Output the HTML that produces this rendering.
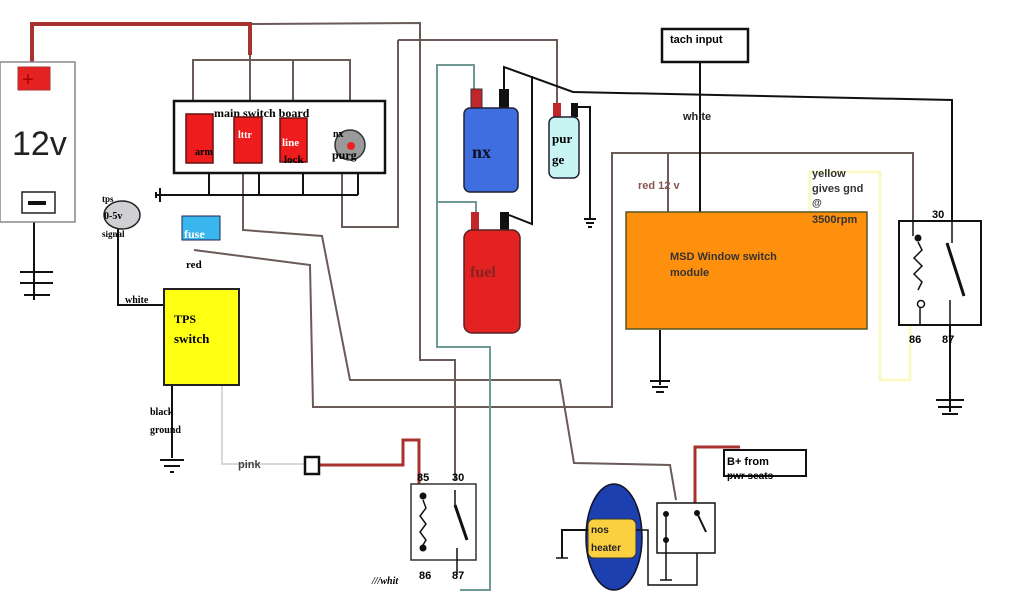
<!DOCTYPE html>
<html><head><meta charset="utf-8"><style>
html,body{margin:0;padding:0;background:#fff;}
svg{display:block;}
.s{font-family:"Liberation Serif",serif;font-weight:bold;}
.a{font-family:"Liberation Sans",sans-serif;font-weight:bold;}
</style></head><body>
<svg width="1024" height="600" viewBox="0 0 1024 600" xmlns="http://www.w3.org/2000/svg">
<g fill="none" stroke-linejoin="miter">
<!-- gray/brown wires -->
<g stroke="#6a5a58" stroke-width="2">
<polyline points="250,24 420,23 420,360 455,360 455,480"/>
<polyline points="398,40 557,40 557,103"/>
<polyline points="398,40 398,227 342,227 342,173"/>
<polyline points="193,100 193,60 350,60 350,100"/>
<line x1="293" y1="60" x2="293" y2="100"/>
<line x1="250" y1="55" x2="250" y2="100"/>
<polyline points="243,173 243,230 322,236 350,380 560,380 574,463 670,465 676,500"/>
<polyline points="194,250 310,265 313,407 612,407 612,153 913,153 913,221"/>
<line x1="668" y1="153" x2="668" y2="212"/>
</g>
<!-- teal wires -->
<g stroke="#6f9a94" stroke-width="2">
<polyline points="474,89 474,65 437,65 437,347 490,347 490,590 460,590"/>
<polyline points="437,202 476,202 476,212"/>
</g>
<!-- black wires -->
<g stroke="#111" stroke-width="2">
<polyline points="504,89 504,67 573,92 952,100 952,221"/>
<polyline points="532,76 532,224 509,215"/>
<polyline points="578,107 590,107 590,218"/>
<line x1="584" y1="219" x2="596" y2="219"/><line x1="586" y1="223" x2="594" y2="223"/><line x1="588" y1="227" x2="592" y2="227"/>
<line x1="700" y1="62" x2="700" y2="212"/>
<polyline points="155,195 358,195"/>
<line x1="160" y1="188" x2="160" y2="202"/><line x1="156" y1="192" x2="156" y2="198"/>
<line x1="209" y1="173" x2="209" y2="195"/><line x1="259" y1="173" x2="259" y2="195"/><line x1="303" y1="173" x2="303" y2="195"/><line x1="358" y1="173" x2="358" y2="195"/>
<line x1="34" y1="222" x2="34" y2="300"/>
<line x1="20" y1="272" x2="53" y2="272"/><line x1="20" y1="283" x2="53" y2="283"/><line x1="24" y1="295" x2="50" y2="295"/>
<polyline points="118,229 118,305 164,305"/>
<line x1="172" y1="385" x2="172" y2="458"/>
<line x1="160" y1="460" x2="184" y2="460"/><line x1="164" y1="466" x2="180" y2="466"/><line x1="170" y1="472" x2="174" y2="472"/>
<line x1="660" y1="330" x2="660" y2="385"/>
<line x1="650" y1="381" x2="670" y2="381"/><line x1="652" y1="387" x2="668" y2="387"/><line x1="656" y1="392" x2="664" y2="392"/>
<line x1="950" y1="325" x2="950" y2="412"/>
<line x1="936" y1="400" x2="964" y2="400"/><line x1="938" y1="407" x2="962" y2="407"/><line x1="942" y1="414" x2="958" y2="414"/>
</g>
<!-- red wires -->
<polyline points="32,62 32,24 250,24 250,55" stroke="#a8322f" stroke-width="4"/>
<polyline points="320,465 403,465 403,440 419,440 419,490" stroke="#a8322f" stroke-width="3"/>
<polyline points="695,505 695,447 740,447" stroke="#a8322f" stroke-width="3"/>
<!-- pink -->
<polyline points="222,385 222,464 305,464" stroke="#d8d8d8" stroke-width="2"/>
<!-- yellow wire -->
<polyline points="810,212 810,172 880,172 880,380 910,380 910,263" stroke="#fafac8" stroke-width="3"/>
</g>

<!-- battery -->
<rect x="0" y="62" width="75" height="160" fill="#fff" stroke="#888" stroke-width="1.5"/>
<rect x="18" y="67" width="32" height="23" fill="#e52222" stroke="#a33" stroke-width="1"/>
<text x="22" y="86" fill="#a00" font-size="20" font-family="Liberation Sans">+</text>
<text x="12" y="155" font-size="34" font-family="Liberation Sans" fill="#222">12v</text>
<rect x="22" y="192" width="33" height="21" fill="#fff" stroke="#222" stroke-width="1.5"/>
<rect x="28" y="201" width="18" height="4" fill="#111"/>

<!-- main switch board -->
<rect x="174" y="101" width="211" height="72" fill="#fff" stroke="#111" stroke-width="2.5"/>
<text x="214" y="117" class="s" font-size="12">main switch board</text>
<rect x="186" y="114" width="27" height="49" fill="#ee1c1c" stroke="#611" stroke-width="1.5"/>
<rect x="234" y="117" width="28" height="46" fill="#ee1c1c" stroke="#611" stroke-width="1.5"/>
<rect x="280" y="118" width="27" height="44" fill="#ee1c1c" stroke="#611" stroke-width="1.5"/>
<circle cx="350" cy="145" r="15" fill="#9a9a9a" stroke="#333" stroke-width="1.5"/>
<circle cx="351" cy="146" r="4" fill="#e22"/>
<text x="195" y="155" class="s" font-size="10">arm</text>
<text x="238" y="138" class="s" font-size="10" fill="#fff">lttr</text>
<text x="282" y="146" class="s" font-size="11" fill="#fff">line</text>
<text x="284" y="163" class="s" font-size="11">lock</text>
<text x="333" y="137" class="s" font-size="10">nx</text>
<text x="332" y="159" class="s" font-size="12">purg</text>

<!-- tps -->
<ellipse cx="122" cy="215" rx="18" ry="14" fill="#d0d0d4" stroke="#222" stroke-width="1.5"/>
<text x="102" y="202" class="s" font-size="9">tps</text>
<text x="104" y="219" class="s" font-size="10">0-5v</text>
<text x="102" y="237" class="s" font-size="9">signal</text>
<rect x="182" y="216" width="38" height="24" fill="#3ab6ef" stroke="#225" stroke-width="1"/>
<text x="184" y="238" class="s" font-size="12" fill="#fff">fuse</text>
<text x="186" y="268" class="s" font-size="11">red</text>
<text x="125" y="303" class="s" font-size="10">white</text>
<rect x="164" y="289" width="75" height="96" fill="#ffff14" stroke="#222" stroke-width="2"/>
<text x="174" y="323" class="s" font-size="12" font-weight="normal">TPS</text>
<text x="174" y="343" class="s" font-size="13" font-weight="normal">switch</text>
<text x="150" y="415" class="s" font-size="10">black</text>
<text x="150" y="433" class="s" font-size="10">ground</text>
<text x="238" y="468" class="a" font-size="11" fill="#444">pink</text>
<rect x="305" y="457" width="14" height="17" fill="#fff" stroke="#111" stroke-width="2.5"/>

<!-- relay 1 -->
<rect x="411" y="484" width="65" height="76" fill="#fff" stroke="#333" stroke-width="1.5"/>
<text x="417" y="481" class="a" font-size="11">85</text>
<text x="452" y="481" class="a" font-size="11">30</text>
<text x="419" y="579" class="a" font-size="11">86</text>
<text x="452" y="579" class="a" font-size="11">87</text>
<circle cx="423" cy="496" r="3.5" fill="#111"/><circle cx="423" cy="548" r="3.5" fill="#111"/>
<polyline points="423,500 426,508 420,516 426,524 420,532 426,540 423,545" fill="none" stroke="#111" stroke-width="1.5"/>
<line x1="455" y1="505" x2="467" y2="540" stroke="#111" stroke-width="3"/>
<line x1="455" y1="490" x2="455" y2="505" stroke="#111" stroke-width="1.5"/>
<line x1="457" y1="548" x2="457" y2="575" stroke="#111" stroke-width="1.5"/>
<text x="372" y="584" class="s" font-size="10" font-style="italic">///whit</text>

<!-- solenoids -->
<rect x="471" y="89" width="11" height="19" fill="#c0272d" stroke="#333"/>
<rect x="499" y="89" width="10" height="19" fill="#111"/>
<rect x="464" y="108" width="54" height="84" rx="6" fill="#3e6ee0" stroke="#223" stroke-width="1.5"/>
<text x="472" y="158" class="s" font-size="18" font-weight="normal" fill="#112">nx</text>
<rect x="553" y="103" width="8" height="14" fill="#c0272d"/>
<rect x="571" y="103" width="7" height="14" fill="#111"/>
<rect x="549" y="117" width="30" height="61" rx="6" fill="#c8f4f4" stroke="#223" stroke-width="1.5"/>
<text x="552" y="143" class="s" font-size="13">pur</text>
<text x="552" y="164" class="s" font-size="13">ge</text>
<rect x="471" y="212" width="8" height="18" fill="#c0272d"/>
<rect x="500" y="212" width="9" height="18" fill="#111"/>
<rect x="464" y="230" width="56" height="103" rx="8" fill="#e52222" stroke="#522" stroke-width="1.5"/>
<text x="470" y="277" class="s" font-size="16" font-weight="normal" fill="#822">fuel</text>

<!-- tach + MSD -->
<rect x="662" y="29" width="86" height="33" fill="#fff" stroke="#111" stroke-width="2.5"/>
<text x="670" y="43" class="a" font-size="11">tach input</text>
<text x="683" y="120" class="a" font-size="11" fill="#222">white</text>
<text x="638" y="189" class="a" font-size="11" fill="#8a5550">red 12 v</text>
<rect x="626" y="212" width="241" height="117" fill="#ff900d" stroke="#552" stroke-width="1.5"/>
<text x="670" y="260" class="a" font-size="11" fill="#333" font-weight="normal">MSD Window switch</text>
<text x="670" y="276" class="a" font-size="11" fill="#333" font-weight="normal">module</text>
<text x="812" y="177" class="a" font-size="11" fill="#333">yellow</text>
<text x="812" y="192" class="a" font-size="11" fill="#333">gives gnd</text>
<text x="812" y="206" class="a" font-size="10" fill="#333">@</text>
<text x="812" y="223" class="a" font-size="11" fill="#333">3500rpm</text>

<!-- relay right -->
<rect x="899" y="221" width="82" height="104" fill="#fff" stroke="#111" stroke-width="2"/>
<text x="932" y="218" class="a" font-size="11">30</text>
<text x="909" y="343" class="a" font-size="11">86</text>
<text x="942" y="343" class="a" font-size="11">87</text>
<line x1="913" y1="221" x2="913" y2="236" stroke="#111" stroke-width="1.5"/>
<circle cx="918" cy="238" r="3.5" fill="#111"/>
<polyline points="918,242 922,250 914,258 922,266 914,274 922,282 918,290" fill="none" stroke="#111" stroke-width="1.5"/>
<circle cx="921" cy="304" r="3.5" fill="#fff" stroke="#111" stroke-width="1.5"/>
<line x1="920" y1="308" x2="920" y2="325" stroke="#111" stroke-width="1.5"/>
<line x1="952" y1="221" x2="952" y2="243" stroke="#111" stroke-width="1.5"/>
<line x1="947" y1="243" x2="964" y2="296" stroke="#111" stroke-width="3"/>
<line x1="950" y1="300" x2="950" y2="325" stroke="#111" stroke-width="1.5"/>

<!-- heater -->
<ellipse cx="614" cy="537" rx="28" ry="53" fill="#1c40b0" stroke="#112" stroke-width="1.5"/>
<rect x="588" y="519" width="48" height="39" rx="6" fill="#fbd040" stroke="#333" stroke-width="1"/>
<text x="591" y="533" class="a" font-size="10" fill="#222">nos</text>
<text x="591" y="551" class="a" font-size="10" fill="#222">heater</text>
<polyline points="588,530 562,530 562,558" fill="none" stroke="#111" stroke-width="2"/>
<line x1="556" y1="558" x2="568" y2="558" stroke="#111" stroke-width="1.5"/>
<polyline points="636,530 648,530 648,585 697,585 697,540" fill="none" stroke="#111" stroke-width="1.5"/>
<rect x="657" y="503" width="58" height="50" fill="#fff" stroke="#111" stroke-width="1.5"/>
<circle cx="666" cy="514" r="3" fill="#111"/><circle cx="666" cy="540" r="3" fill="#111"/>
<line x1="666" y1="514" x2="666" y2="580" stroke="#111" stroke-width="1.5"/>
<line x1="660" y1="580" x2="672" y2="580" stroke="#111" stroke-width="1.5"/>
<circle cx="697" cy="513" r="3" fill="#111"/>
<line x1="697" y1="513" x2="706" y2="532" stroke="#111" stroke-width="2"/>
<rect x="724" y="450" width="82" height="26" fill="#fff" stroke="#111" stroke-width="2"/>
<text x="727" y="465" class="a" font-size="11">B+ from</text>
<text x="727" y="479" class="a" font-size="10">pwr seats</text>
</svg>
</body></html>
